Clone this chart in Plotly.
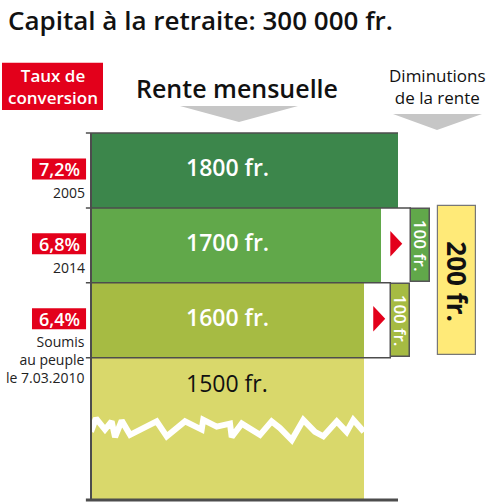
import plotly.graph_objects as go

# données
capital = "300 000"
rentes = [1800, 1700, 1600, 1500]
taux = ["7,2%", "6,8%", "6,4%"]
notes = ["2005", "2014", "Soumis<br>au peuple<br>le 7.03.2010"]
diminutions = [100, 100]
total_dim = sum(diminutions)

# couleurs des bandes
band_colors = ["#3c864b", "#61a84a", "#a6bb43", "#d9d86b"]
rouge = "#e3001b"
gris_ligne = "#4d4d4d"

# géométrie (unités de l'axe y = lignes)
row_c = [4.4, 3.4, 2.4, 0.95]
row_h = [1, 1, 1, 1.9]
bar_len = rentes[:3] + [rentes[2]]   # la bande de 1500 est dessinée coupée
box_base = [rentes[0] + 76, rentes[1] + 59]
box_scale = 1.12
FONT = "Open Sans"

fig = go.Figure()

# bandes de rente
fig.add_trace(go.Bar(
    orientation="h", y=row_c, x=bar_len, base=0, width=row_h,
    marker=dict(color=band_colors, line=dict(width=0)),
    hoverinfo="skip", showlegend=False,
))

# boîtes de diminution 100 fr.
fig.add_trace(go.Bar(
    orientation="h", y=row_c[1:3], x=[d * box_scale for d in diminutions], base=box_base,
    width=[0.98, 0.98],
    marker=dict(color=band_colors[1:3], line=dict(color="#555", width=1.5)),
    hoverinfo="skip", showlegend=False,
))

# boîte totale 200 fr.
tot_base = box_base[0] + diminutions[0] * box_scale + 46
fig.add_trace(go.Bar(
    orientation="h", y=[2.93], x=[total_dim * box_scale], base=[tot_base], width=[2.0],
    marker=dict(color="#ffea78", line=dict(color="#777", width=1.2)),
    hoverinfo="skip", showlegend=False,
))

# cassure blanche dans la bande de 1500
zig_x = [0, 29, 82, 121, 141, 180, 229, 385, 444, 551, 649, 658, 737, 815, 825, 884,
         991, 1059, 1108, 1177, 1245, 1313, 1362, 1441, 1499, 1538, 1600]
zig_y = [0.91, 1.09, 0.94, 1.05, 0.84, 1.06, 0.87, 1.05, 0.85, 1.05, 0.94, 1.07, 0.98, 1.02, 0.84, 1.02,
         0.87, 1.05, 0.96, 0.80, 1.07, 0.91, 0.85, 1.05, 0.91, 1.07, 0.91]
fig.add_trace(go.Scatter(x=zig_x, y=zig_y, mode="lines", line=dict(color="white", width=6),
                         hoverinfo="skip", showlegend=False))

shapes = []
# lignes de séparation
line_ends = [rentes[0], box_base[0], box_base[1], box_base[1]]
for yb, xe in zip([4.9, 3.9, 2.9, 1.9], line_ends):
    shapes.append(dict(type="line", xref="x", yref="y", x0=-30, x1=xe, y0=yb, y1=yb,
                       line=dict(color=gris_ligne, width=1.5)))
shapes.append(dict(type="line", xref="x", yref="y", x0=-30, x1=rentes[0], y0=0, y1=0,
                   line=dict(color=gris_ligne, width=3)))
shapes.append(dict(type="line", xref="x", yref="y", x0=0, x1=0, y0=0, y1=4.9,
                   line=dict(color=gris_ligne, width=2)))

# triangles rouges
for i in range(2):
    xb = rentes[i + 1] + 55
    yc = row_c[i + 1] + 0.02
    shapes.append(dict(type="path", xref="x", yref="y",
                       path=f"M {xb},{yc - 0.17} L {xb + 70},{yc} L {xb},{yc + 0.17} Z",
                       fillcolor=rouge, line=dict(width=0)))

# boîtes rouges des taux
for i in range(3):
    shapes.append(dict(type="rect", xref="x", yref="y", x0=-346, x1=-29,
                       y0=row_c[i] - 0.12, y1=row_c[i] + 0.16,
                       fillcolor=rouge, line=dict(width=0)))

# en-têtes (décor)
shapes.append(dict(type="rect", xref="paper", yref="paper", x0=0.004, x1=0.206, y0=0.781, y1=0.875,
                   fillcolor=rouge, line=dict(width=0)))
shapes.append(dict(type="path", xref="paper", yref="paper",
                   path="M 0.36,0.789 L 0.596,0.789 L 0.478,0.757 Z", fillcolor="#c6c6c6", line=dict(width=0)))
shapes.append(dict(type="path", xref="paper", yref="paper",
                   path="M 0.786,0.773 L 0.964,0.773 L 0.874,0.741 Z", fillcolor="#c6c6c6", line=dict(width=0)))

ann = []
ann.append(dict(xref="paper", yref="paper", x=0.012, y=0.96, xanchor="left", yanchor="middle",
                text=f"Capital à la retraite: {capital} fr.", showarrow=False,
                font=dict(family=FONT, size=26, color="#111", weight=600)))
ann.append(dict(xref="paper", yref="paper", x=0.105, y=0.828, xanchor="center", yanchor="middle",
                text="Taux de<br>conversion",
                showarrow=False, font=dict(family=FONT, size=17, color="white", weight=600)))
ann.append(dict(xref="paper", yref="paper", x=0.474, y=0.825, xanchor="center", yanchor="middle",
                text="Rente mensuelle",
                showarrow=False, font=dict(family=FONT, size=25, color="#111", weight=600)))
ann.append(dict(xref="paper", yref="paper", x=0.874, y=0.827, xanchor="center", yanchor="middle",
                text="Diminutions<br>de la rente",
                showarrow=False, font=dict(family=FONT, size=17, color="#111")))

# montants des rentes
for i, r in enumerate(rentes):
    y = row_c[i] + 0.05 if i < 3 else 1.56
    ann.append(dict(x=rentes[2] / 2, y=y, text=f"{r} fr.", showarrow=False,
                    font=dict(family=FONT, size=23, color="white" if i < 3 else "#111",
                              weight=600 if i < 3 else 400)))

# taux + années
for i, t in enumerate(taux):
    ann.append(dict(x=-187, y=row_c[i] + 0.02, text=t, showarrow=False, borderpad=0,
                    font=dict(family=FONT, size=18, color="white", weight=600)))
    top = row_c[i] - (0.16 if "<br>" not in notes[i] else 0.15)
    ann.append(dict(x=-29, y=top, text=notes[i], xanchor="right", yanchor="top",
                    align="right", showarrow=False, borderpad=0,
                    font=dict(family=FONT, size=14, color="#222")))

# textes des diminutions
for i, d in enumerate(diminutions):
    ann.append(dict(x=box_base[i] + d * box_scale / 2, y=row_c[i + 1], text=f"{d} fr.",
                    textangle=90, showarrow=False,
                    font=dict(family=FONT, size=17, color="white", weight=600)))
ann.append(dict(x=tot_base + total_dim * box_scale / 2, y=2.92, text=f"{total_dim} fr.",
                textangle=90, showarrow=False,
                font=dict(family=FONT, size=26, color="#111", weight=700)))

px_fr = 307 / 1800
fig.update_layout(
    width=500, height=502,
    margin=dict(l=0, r=0, t=0, b=0),
    paper_bgcolor="white", plot_bgcolor="white",
    barmode="overlay", bargap=0,
    xaxis=dict(range=[-91 / px_fr, 409 / px_fr], visible=False, fixedrange=True),
    yaxis=dict(range=[-2 / 74.9, 500 / 74.9], visible=False, fixedrange=True),
    shapes=shapes, annotations=ann,
    hovermode=False,
)

# la page a une marge de 8px par défaut
fig.write_html("out.html", config={"displayModeBar": False},
               post_script="document.body.style.margin='0';")
